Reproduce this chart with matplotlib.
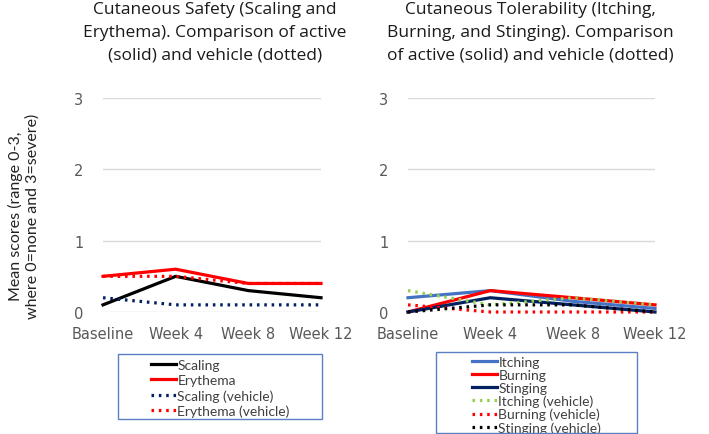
import matplotlib
matplotlib.use("Agg")
import matplotlib.pyplot as plt
from matplotlib.patches import Rectangle

categories = ["Baseline", "Week 4", "Week 8", "Week 12"]
yticks = [0, 1, 2, 3]

scaling = [0.1, 0.5, 0.3, 0.2]
erythema = [0.5, 0.6, 0.4, 0.4]
scaling_vehicle = [0.2, 0.1, 0.1, 0.1]
erythema_vehicle = [0.5, 0.5, 0.4, 0.4]

itching = [0.2, 0.3, 0.15, 0.05]
burning = [0.0, 0.3, 0.2, 0.1]
stinging = [0.0, 0.2, 0.1, 0.0]
itching_vehicle = [0.3, 0.1, 0.2, 0.1]
burning_vehicle = [0.1, 0.0, 0.0, 0.0]
stinging_vehicle = [0.0, 0.1, 0.1, 0.0]

title_left = "Cutaneous Safety (Scaling and\nErythema). Comparison of active\n(solid) and vehicle (dotted)"
title_right = "Cutaneous Tolerability (Itching,\nBurning, and Stinging). Comparison\nof active (solid) and vehicle (dotted)"
ylabel = "Mean scores (range 0-3,\nwhere 0=none and 3=severe)"

fig = plt.figure(figsize=(7.09, 4.35), dpi=100)
W, H = 709, 435
def rect(x0, x1, ytop, ybot):
    return [x0 / W, 1 - ybot / H, (x1 - x0) / W, (ybot - ytop) / H]

ax1 = fig.add_axes(rect(103, 321, 99, 313))
ax2 = fig.add_axes(rect(408, 655, 99, 313))

tick_color = "#595959"
dot = (0, (0.8, 1.5))
lw = 2.3

def style(ax):
    ax.set_xlim(0, 3)
    ax.set_ylim(0, 3)
    ax.set_yticks(yticks)
    ax.set_xticks(range(len(categories)))
    ax.set_xticklabels(categories)
    ax.grid(axis="y", color="#d9d9d9", lw=1)
    ax.set_axisbelow(True)
    for s in ax.spines.values():
        s.set_visible(False)
    ax.tick_params(length=0, labelsize=10.5, colors=tick_color, pad=10)
    ax.tick_params(axis="y", pad=14)
    for lab in ax.get_xticklabels() + ax.get_yticklabels():
        lab.set_fontfamily("DejaVu Sans")

x = range(len(categories))
ax1.plot(x, scaling, color="black", lw=lw, label="Scaling", clip_on=False)
ax1.plot(x, erythema, color="#ff0000", lw=lw, label="Erythema", clip_on=False)
ax1.plot(x, scaling_vehicle, color="#002060", lw=lw, ls=dot, label="Scaling (vehicle)", clip_on=False)
ax1.plot(x, erythema_vehicle, color="#ff0000", lw=lw, ls=dot, label="Erythema (vehicle)", clip_on=False)
style(ax1)

ax2.plot(x, itching, color="#4472c4", lw=lw, label="Itching", clip_on=False)
ax2.plot(x, burning, color="#ff0000", lw=lw, label="Burning", clip_on=False)
ax2.plot(x, stinging, color="#002060", lw=lw, label="Stinging", clip_on=False)
ax2.plot(x, itching_vehicle, color="#92d050", lw=lw, ls=dot, label="Itching (vehicle)", clip_on=False)
ax2.plot(x, burning_vehicle, color="#ff0000", lw=lw, ls=dot, label="Burning (vehicle)", clip_on=False)
ax2.plot(x, stinging_vehicle, color="black", lw=lw, ls=dot, label="Stinging (vehicle)", clip_on=False)
style(ax2)

tfont = dict(fontsize=12.5, family="Open Sans", color="#1a1a1a", linespacing=1.55)
fig.text(215 / W, 1 - 2 / H, title_left, ha="center", va="top", **tfont)
fig.text(530 / W, 1 - 2 / H, title_right, ha="center", va="top", **tfont)

fig.text(24 / W, 1 - 216 / H, ylabel, rotation=90, ha="center", va="center",
         fontsize=11.5, family="Lato", color="#222222", linespacing=1.2)

def make_legend(ax, anchor, spacing):
    leg = ax.legend(loc="upper left", bbox_to_anchor=anchor, bbox_transform=fig.transFigure,
                    frameon=False, handlelength=1.8, handletextpad=0.1, labelspacing=spacing,
                    borderpad=0, borderaxespad=0, prop={"family": "Lato", "size": 10},
                    labelcolor="#404040")
    return leg

make_legend(ax1, (151 / W, 1 - 360 / H), 0.22)
make_legend(ax2, (472 / W, 1 - 357 / H), 0.06)

for (x0, x1, y0, y1) in [(118, 322, 355, 420), (436, 637, 353, 434)]:
    fig.add_artist(Rectangle((x0 / W, 1 - y1 / H), (x1 - x0) / W, (y1 - y0) / H,
                             transform=fig.transFigure, fill=False,
                             edgecolor="#5b7fc4", lw=1))

fig.savefig("out.png", dpi=100)
